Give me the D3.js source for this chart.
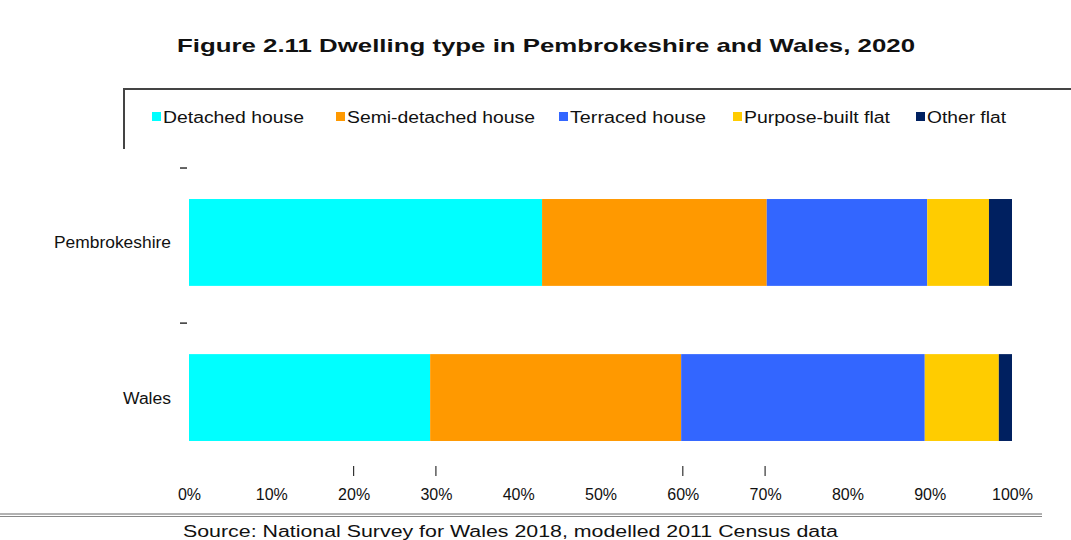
<!DOCTYPE html>
<html>
<head>
<meta charset="utf-8">
<script src="https://cdn.jsdelivr.net/npm/d3@7"></script>
<style>
  body { margin: 0; background: #fff; }
  svg text { font-family: "Liberation Sans", Arial, sans-serif; fill: #111; }
</style>
</head>
<body>
<svg id="chart" width="1071" height="540"></svg>
<script>
// data (percent of dwellings)
var areas = ["Pembrokeshire", "Wales"];
var types = ["Detached house", "Semi-detached house", "Terraced house", "Purpose-built flat", "Other flat"];
var colours = ["#00ffff", "#ff9900", "#3366ff", "#ffcc00", "#002060"];
var pembrokeshire = [42.9, 27.3, 19.5, 7.5, 2.8];
var wales = [29.3, 30.5, 29.6, 9.0, 1.6];
var xTicks = [0, 10, 20, 30, 40, 50, 60, 70, 80, 90, 100];

// the source figure's text is stretched sideways; these widths copy that
var legendX = [152, 336, 559, 733, 916];
var legendW = [141, 188, 136, 146, 79];
var areaW = [117, 48];

var svg = d3.select("#chart");

var x = d3.scaleLinear().domain([0, 100]).range([189, 1012]);
var y = d3.scaleBand().domain(areas).range([168, 472]).paddingInner(0.44).paddingOuter(0.2);

// stack the rows
var rows = [pembrokeshire, wales].map(function(v, i) {
    var o = { area: areas[i] };
    types.forEach(function(t, j) { o[t] = v[j]; });
    return o;
});
var series = d3.stack().keys(types)(rows);

// title
svg.append("text")
    .attr("x", 546).attr("y", 52)
    .attr("text-anchor", "middle")
    .attr("textLength", 738).attr("lengthAdjust", "spacingAndGlyphs")
    .style("font-size", "19px").style("font-weight", "bold")
    .text("Figure 2.11 Dwelling type in Pembrokeshire and Wales, 2020");

// legend frame (top + left edges only)
svg.append("path")
    .attr("d", "M124,149 V89 H1071")
    .attr("fill", "none").attr("stroke", "#444").attr("stroke-width", 2);

var lg = svg.append("g").selectAll("g").data(types).enter().append("g")
    .attr("transform", function(d, i) { return "translate(" + legendX[i] + ",117)"; });
lg.append("rect").attr("x", 0).attr("y", -5).attr("width", 9).attr("height", 9)
    .attr("fill", function(d, i) { return colours[i]; });
lg.append("text").attr("x", 11).attr("y", 6).style("font-size", "16px")
    .attr("textLength", function(d, i) { return legendW[i]; })
    .attr("lengthAdjust", "spacingAndGlyphs")
    .text(function(d) { return d; });

// bars
svg.append("g").selectAll("g").data(series).enter().append("g")
    .attr("fill", function(d, i) { return colours[i]; })
    .selectAll("rect").data(function(d) { return d; }).enter().append("rect")
    .attr("x", function(d) { return x(d[0]); })
    .attr("width", function(d) { return x(d[1]) - x(d[0]); })
    .attr("y", function(d) { return y(d.data.area); })
    .attr("height", y.bandwidth());

// category labels
svg.append("g").selectAll("text").data(areas).enter().append("text")
    .attr("x", 171)
    .attr("y", function(d) { return y(d) + y.bandwidth() / 2 + 6; })
    .attr("text-anchor", "end")
    .attr("textLength", function(d, i) { return areaW[i]; })
    .attr("lengthAdjust", "spacingAndGlyphs")
    .style("font-size", "16px")
    .text(function(d) { return d; });

// small category-boundary dashes on the left
svg.append("g").selectAll("line").data(areas).enter().append("line")
    .attr("x1", 180).attr("x2", 187)
    .attr("y1", function(d) { return y(d) - 31; })
    .attr("y2", function(d) { return y(d) - 31; })
    .attr("stroke", "#333").attr("stroke-width", 1.5);

// x axis labels
var xAxis = d3.axisBottom(x).tickValues(xTicks).tickSize(0).tickPadding(0)
    .tickFormat(function(d) { return d + "%"; });
var ax = svg.append("g").attr("transform", "translate(0,486)").call(xAxis);
ax.select(".domain").remove();
ax.selectAll("text").style("font-size", "16px").attr("dy", "0.9em")
    .attr("font-family", null).attr("fill", "#111");

// the stray tick marks seen above a few labels
svg.append("g").selectAll("line").data([20, 30, 60, 70]).enter().append("line")
    .attr("x1", function(d) { return x(d); }).attr("x2", function(d) { return x(d); })
    .attr("y1", 466).attr("y2", 476)
    .attr("stroke", "#333").attr("stroke-width", 1.2);

// bottom rule and source
svg.append("line").attr("x1", 0).attr("x2", 1042).attr("y1", 514).attr("y2", 514)
    .attr("stroke", "#666").attr("stroke-width", 1);
svg.append("line").attr("x1", 0).attr("x2", 1042).attr("y1", 516.5).attr("y2", 516.5)
    .attr("stroke", "#888").attr("stroke-width", 1);
svg.append("text").attr("x", 183).attr("y", 537).style("font-size", "16px")
    .attr("textLength", 655).attr("lengthAdjust", "spacingAndGlyphs")
    .text("Source: National Survey for Wales 2018, modelled 2011 Census data");
</script>
</body>
</html>
